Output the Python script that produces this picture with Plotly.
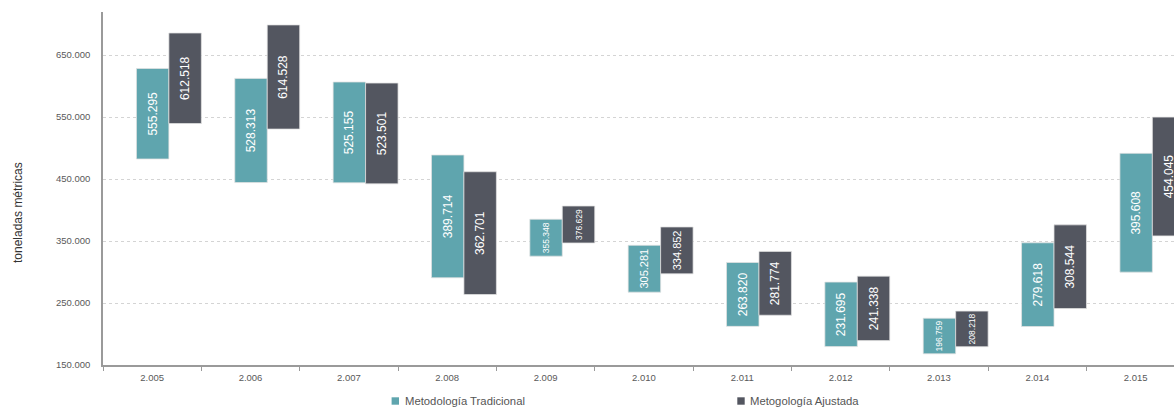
import plotly.graph_objects as go

# Annual estimates (metric tonnes) by methodology, with the half-range of each interval
years = ["2.005", "2.006", "2.007", "2.008", "2.009", "2.010",
         "2.011", "2.012", "2.013", "2.014", "2.015"]
tradicional = [555295, 528313, 525155, 389714, 355348, 305281,
               263820, 231695, 196759, 279618, 395608]
ajustada = [612518, 614528, 523501, 362701, 376629, 334852,
            281774, 241338, 208218, 308544, 454045]
half_range = [73000, 84000, 81300, 99000, 29800, 37800,
              51500, 52000, 28700, 67500, 95800]

series_names = ["Metodología Tradicional", "Metogología Ajustada"]
series_colors = ["#5fa5ae", "#535660"]

LABEL_FONT = "Liberation Sans, Arial, sans-serif"
TICK_FONT = "Liberation Sans, Arial, sans-serif"


def label_size(h):
    # shorter intervals get a smaller value label so it stays inside the bar
    span = 2 * h
    if span < 65000:
        return 8.5
    if span < 90000:
        return 11
    return 12


label_sizes = [label_size(h) for h in half_range]

fig = go.Figure()

for vals, name, color, off in [
    (tradicional, series_names[0], series_colors[0], -0.16),
    (ajustada, series_names[1], series_colors[1], 0.17),
]:
    fig.add_trace(go.Bar(
        x=years,
        y=[2 * h for h in half_range],
        base=[v - h for v, h in zip(vals, half_range)],
        customdata=vals,
        texttemplate="%{customdata:,.0f}",
        textposition="inside",
        insidetextanchor="middle",
        textangle=-90,
        constraintext="none",
        textfont=dict(family=LABEL_FONT, size=label_sizes, color="white"),
        name=name,
        offset=off,
        width=0.33,
        marker=dict(color=color, line=dict(color="rgba(225,225,225,0.75)", width=1)),
        showlegend=False,
    ))

# Legend drawn as swatches plus text beneath the plot
legend_pos = [(395.3, 402.5), (741.0, 747.5)]
plot_left, plot_w, plot_bottom, plot_h = 103, 1071, 365, 353
legend_y = (plot_bottom - 401) / plot_h
shapes = []
annotations = []
for (sx, tx), name, color in zip(legend_pos, series_names, series_colors):
    shapes.append(dict(
        type="rect", xref="paper", yref="paper",
        xsizemode="pixel", ysizemode="pixel",
        xanchor=(sx - plot_left) / plot_w, yanchor=legend_y,
        x0=-3.7, x1=3.7, y0=-3.7, y1=3.7,
        fillcolor=color, line=dict(width=0),
    ))
    annotations.append(dict(
        text=name, xref="paper", yref="paper",
        x=(tx - plot_left) / plot_w, y=legend_y,
        xanchor="left", yanchor="middle", showarrow=False,
        font=dict(family=TICK_FONT, size=11.3, color="#555555"),
    ))

annotations.append(dict(
    text="toneladas métricas", xref="paper", yref="paper",
    x=(18 - plot_left) / plot_w, y=(plot_bottom - 213) / plot_h,
    xanchor="center", yanchor="middle", textangle=-90, showarrow=False,
    font=dict(family=TICK_FONT, size=12, color="#333333"),
))

fig.update_layout(
    width=1174, height=407,
    margin=dict(l=103, r=0, t=12, b=42),
    paper_bgcolor="white", plot_bgcolor="white",
    separators=",.",
    barmode="group",
    shapes=shapes,
    annotations=annotations,
    xaxis=dict(
        type="category",
        range=[-0.5, 10.39],
        tickson="boundaries",
        ticks="outside", ticklen=4, tickcolor="#9a9a9a", tickwidth=1,
        ticklabelstandoff=3,
        showline=True, linecolor="#9a9a9a", linewidth=1.5,
        showgrid=False,
        tickfont=dict(family=TICK_FONT, size=9.5, color="#595959"),
    ),
    yaxis=dict(
        range=[150000, 719400],
        tick0=150000, dtick=100000,
        tickformat=",.0f",
        ticks="outside", ticklen=9, tickcolor="rgba(0,0,0,0)",
        showline=True, linecolor="#9a9a9a", linewidth=1.5,
        showgrid=True, gridcolor="#d4d4d4", gridwidth=1, griddash="3px,3px",
        zeroline=False,
        tickfont=dict(family=TICK_FONT, size=9.5, color="#595959"),
    ),
)

fig.write_html("out.html")
